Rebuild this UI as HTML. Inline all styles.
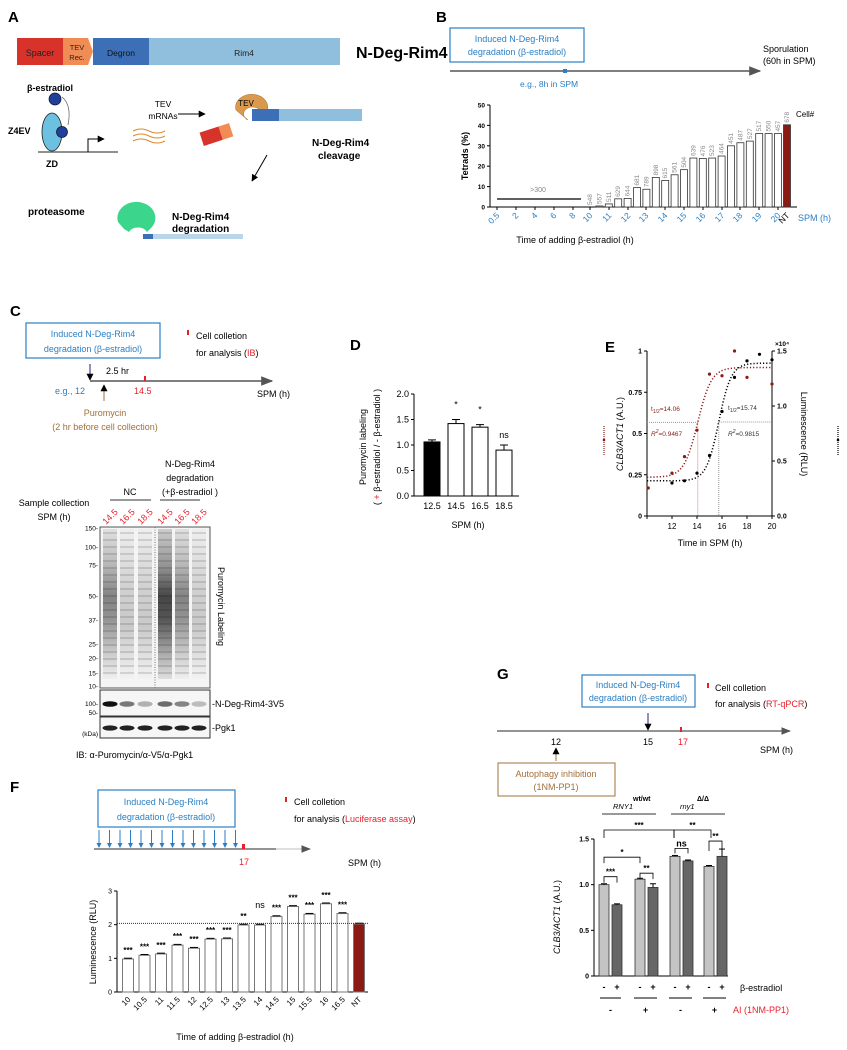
<!DOCTYPE html>
<html><head><meta charset="utf-8"><style>
html,body{margin:0;padding:0;background:#fff;}
svg{display:block;font-family:"Liberation Sans",Arial,sans-serif;}
</style></head><body>
<svg id="fig" width="847" height="1050" viewBox="0 0 847 1050" xmlns="http://www.w3.org/2000/svg">
<defs>
<marker id="ah" viewBox="0 0 10 10" refX="9" refY="5" markerWidth="7" markerHeight="7" orient="auto"><path d="M0,0L10,5L0,10z" fill="#000"/></marker>
<marker id="ahg" viewBox="0 0 10 10" refX="9" refY="5" markerWidth="8" markerHeight="8" orient="auto"><path d="M0,1L10,5L0,9z" fill="#555"/></marker>
<linearGradient id="laneA" x1="0" y1="0" x2="0" y2="1">
<stop offset="0" stop-color="#ddd"/><stop offset="0.2" stop-color="#bbb"/><stop offset="0.45" stop-color="#777"/><stop offset="0.6" stop-color="#888"/><stop offset="0.85" stop-color="#ccc"/><stop offset="1" stop-color="#eee"/></linearGradient>
<linearGradient id="laneB" x1="0" y1="0" x2="0" y2="1">
<stop offset="0" stop-color="#c8c8c8"/><stop offset="0.25" stop-color="#888"/><stop offset="0.45" stop-color="#333"/><stop offset="0.6" stop-color="#444"/><stop offset="0.85" stop-color="#aaa"/><stop offset="1" stop-color="#ddd"/></linearGradient>
<linearGradient id="laneC" x1="0" y1="0" x2="0" y2="1">
<stop offset="0" stop-color="#eee"/><stop offset="0.4" stop-color="#ccc"/><stop offset="0.65" stop-color="#c4c4c4"/><stop offset="1" stop-color="#f2f2f2"/></linearGradient>
<pattern id="bands" width="10" height="7" patternUnits="userSpaceOnUse"><rect width="10" height="2" fill="rgba(0,0,0,0.12)"/></pattern>
</defs>

<!-- Panel A -->
<g>
<text x="8" y="22" font-size="15" font-weight="bold">A</text>
<rect x="17" y="38" width="46" height="27" fill="#d8332b"/>
<text x="40" y="56" font-size="9" text-anchor="middle" fill="#222">Spacer</text>
<path d="M63,38H88L93,51.5L88,65H63z" fill="#f28c55"/>
<text x="77" y="50" font-size="7.5" text-anchor="middle" fill="#222">TEV</text><text x="77" y="60" font-size="7.5" text-anchor="middle" fill="#222">Rec.</text>
<rect x="93" y="38" width="56" height="27" fill="#3d6fb6"/>
<text x="121" y="56" font-size="8.5" text-anchor="middle" fill="#111">Degron</text>
<rect x="149" y="38" width="191" height="27" fill="#90bfdd"/>
<text x="244" y="56" font-size="8.5" text-anchor="middle" fill="#222">Rim4</text>
<text x="356" y="58" font-size="16" font-weight="bold">N-Deg-Rim4</text>
<text x="27" y="91" font-size="9" font-weight="bold">β-estradiol</text>
<circle cx="55" cy="99" r="6" fill="#1f3f9a" stroke="#112" stroke-width="0.7"/>
<path d="M62,97Q72,105 68,125" fill="none" stroke="#555" stroke-width="0.7"/>
<ellipse cx="52" cy="132" rx="10" ry="19" fill="#6cc1e1" stroke="#222" stroke-width="0.8"/>
<circle cx="62" cy="132" r="5.5" fill="#1f3f9a" stroke="#112" stroke-width="0.7"/>
<text x="8" y="134" font-size="9" font-weight="bold">Z4EV</text>
<line x1="38" y1="152" x2="118" y2="152" stroke="#222" stroke-width="1"/>
<text x="46" y="167" font-size="9" font-weight="bold">ZD</text>
<path d="M88,152V139H104" fill="none" stroke="#000" stroke-width="1" marker-end="url(#ah)"/>
<text x="163" y="107" font-size="8.5" text-anchor="middle">TEV</text><text x="163" y="119" font-size="8.5" text-anchor="middle">mRNAs</text>
<line x1="178" y1="114" x2="205" y2="114" stroke="#000" stroke-width="1" marker-end="url(#ah)"/>
<g fill="none" stroke="#d98b2e" stroke-width="1"><path d="M133,131q8,-4 16,0t16,0"/><path d="M133,136q8,-4 16,0t16,0"/><path d="M133,141q8,-4 16,0t16,0"/></g>
<path d="M236,110a16,13 0 1 1 30,3l-6,-3a9,7 0 1 0 -12,10z" fill="#d99a4f" stroke="#b87a30" stroke-width="0.6"/>
<text x="246" y="106" font-size="8" text-anchor="middle">TEV</text>
<rect x="252" y="109" width="27" height="12" fill="#3d6fb6"/><rect x="279" y="109" width="83" height="12" fill="#90bfdd"/>
<g transform="rotate(-18 215 135)"><rect x="201" y="128" width="20" height="14" fill="#d8332b"/><rect x="221" y="128" width="11" height="14" fill="#f28c55"/></g>
<text x="312" y="146" font-size="10" font-weight="bold">N-Deg-Rim4</text><text x="318" y="159" font-size="10" font-weight="bold">cleavage</text>
<line x1="267" y1="155" x2="252" y2="181" stroke="#000" stroke-width="1" marker-end="url(#ah)"/>
<text x="28" y="215" font-size="10" font-weight="bold">proteasome</text>
<path d="M118,222a19,16 0 1 1 34,5l-5,5a10,8 0 0 0 -18,0l-5,-3z" fill="#3bd68b"/>
<rect x="143" y="234" width="10" height="5" fill="#3d6fb6"/><rect x="153" y="234" width="90" height="5" fill="#b9d6ea"/>
<text x="172" y="220" font-size="10" font-weight="bold">N-Deg-Rim4</text><text x="172" y="232" font-size="10" font-weight="bold">degradation</text>
</g>

<!-- Panel B header -->
<g>
<text x="436" y="22" font-size="15" font-weight="bold">B</text>
<rect x="450" y="28" width="134" height="34" fill="#fff" stroke="#2a7fc4" stroke-width="1.2"/>
<text x="517" y="42" font-size="9" text-anchor="middle" fill="#2a7fc4">Induced N-Deg-Rim4</text>
<text x="517" y="55" font-size="9" text-anchor="middle" fill="#2a7fc4">degradation (β-estradiol)</text>
<line x1="450" y1="71" x2="760" y2="71" stroke="#555" stroke-width="1.5" marker-end="url(#ahg)"/>
<rect x="563" y="69" width="4" height="4" fill="#2a7fc4"/>
<text x="520" y="87" font-size="8.5" fill="#2a7fc4">e.g., 8h in SPM</text>
<text x="763" y="52" font-size="9">Sporulation</text><text x="763" y="64" font-size="9">(60h in SPM)</text>
<g id="chartB"></g>
</g>

<!-- Panel C -->
<g>
<text x="10" y="316" font-size="15" font-weight="bold">C</text>
<rect x="26" y="323" width="134" height="35" fill="#fff" stroke="#2a7fc4" stroke-width="1.2"/>
<text x="93" y="337" font-size="9" text-anchor="middle" fill="#2a7fc4">Induced N-Deg-Rim4</text>
<text x="93" y="352" font-size="9" text-anchor="middle" fill="#2a7fc4">degradation (β-estradiol)</text>
<rect x="187" y="330" width="2" height="5" fill="#e8202a"/>
<text x="196" y="339" font-size="9">Cell colletion</text>
<text x="196" y="356" font-size="9">for analysis (<tspan fill="#e8202a">IB</tspan>)</text>
<line x1="90" y1="381" x2="272" y2="381" stroke="#555" stroke-width="1.5" marker-end="url(#ahg)"/>
<line x1="90" y1="364" x2="90" y2="380" stroke="#1a237e" stroke-width="1" marker-end="url(#ah)"/>
<text x="106" y="374" font-size="9">2.5 hr</text>
<rect x="144" y="376" width="2" height="5" fill="#e8202a"/>
<text x="55" y="394" font-size="9" fill="#2a7fc4">e.g., 12</text>
<text x="134" y="394" font-size="9" fill="#e8202a">14.5</text>
<text x="257" y="397" font-size="9">SPM (h)</text>
<line x1="104" y1="401" x2="104" y2="385" stroke="#a0703a" stroke-width="1" marker-end="url(#ah)"/>
<text x="105" y="416" font-size="9" text-anchor="middle" fill="#a0703a">Puromycin</text>
<text x="105" y="430" font-size="9" text-anchor="middle" fill="#a0703a">(2 hr before cell collection)</text>
<text x="190" y="467" font-size="9" text-anchor="middle">N-Deg-Rim4</text>
<text x="190" y="481" font-size="9" text-anchor="middle">degradation</text>
<text x="190" y="495" font-size="9" text-anchor="middle">(+β-estradiol )</text>
<text x="130" y="495" font-size="9" text-anchor="middle">NC</text>
<line x1="110" y1="500" x2="151" y2="500" stroke="#333"/><line x1="160" y1="500" x2="200" y2="500" stroke="#333"/>
<text x="54" y="506" font-size="9" text-anchor="middle">Sample collection</text>
<text x="54" y="520" font-size="9" text-anchor="middle">SPM (h)</text>
</g>
<g id="gel"></g>

<!-- Panel D -->
<g>
<text x="350" y="350" font-size="15" font-weight="bold">D</text>
<g id="chartD"></g>
</g>

<!-- Panel E -->
<g>
<text x="605" y="352" font-size="15" font-weight="bold">E</text>
<g id="chartE"></g>
</g>

<!-- Panel F -->
<g>
<text x="10" y="792" font-size="15" font-weight="bold">F</text>
<rect x="98" y="790" width="137" height="37" fill="#fff" stroke="#2a7fc4" stroke-width="1.2"/>
<text x="166" y="805" font-size="9" text-anchor="middle" fill="#2a7fc4">Induced N-Deg-Rim4</text>
<text x="166" y="820" font-size="9" text-anchor="middle" fill="#2a7fc4">degradation (β-estradiol)</text>
<rect x="285" y="797" width="2" height="5" fill="#e8202a"/>
<text x="294" y="805" font-size="9">Cell colletion</text>
<text x="294" y="822" font-size="9">for analysis (<tspan fill="#e8202a">Luciferase assay</tspan>)</text>
<line x1="94" y1="849" x2="276" y2="849" stroke="#555" stroke-width="1.2"/>
<line x1="276" y1="849" x2="310" y2="849" stroke="#ccc" stroke-width="1.2" marker-end="url(#ahg)"/>
<g id="arrowsF"></g>
<rect x="242" y="844" width="3" height="5" fill="#e8202a"/>
<text x="244" y="865" font-size="9" text-anchor="middle" fill="#e8202a">17</text>
<text x="348" y="866" font-size="9">SPM (h)</text>
<g id="chartF"></g>
</g>

<!-- Panel G -->
<g>
<text x="497" y="679" font-size="15" font-weight="bold">G</text>
<rect x="582" y="675" width="113" height="32" fill="#fff" stroke="#2a7fc4" stroke-width="1.2"/>
<text x="638" y="688" font-size="9" text-anchor="middle" fill="#2a7fc4">Induced N-Deg-Rim4</text>
<text x="638" y="701" font-size="9" text-anchor="middle" fill="#2a7fc4">degradation (β-estradiol)</text>
<rect x="707" y="683" width="2" height="5" fill="#e8202a"/>
<text x="715" y="691" font-size="9">Cell colletion</text>
<text x="715" y="707" font-size="9">for analysis (<tspan fill="#e8202a">RT-qPCR</tspan>)</text>
<line x1="497" y1="731" x2="790" y2="731" stroke="#555" stroke-width="1.2" marker-end="url(#ahg)"/>
<line x1="648" y1="713" x2="648" y2="730" stroke="#1a237e" stroke-width="1" marker-end="url(#ah)"/>
<rect x="680" y="727" width="2" height="5" fill="#e8202a"/>
<text x="556" y="745" font-size="9" text-anchor="middle">12</text>
<text x="648" y="745" font-size="9" text-anchor="middle">15</text>
<text x="683" y="745" font-size="9" text-anchor="middle" fill="#e8202a">17</text>
<text x="760" y="753" font-size="9">SPM (h)</text>
<line x1="556" y1="761" x2="556" y2="748" stroke="#a0703a" stroke-width="1" marker-end="url(#ah)"/>
<rect x="498" y="763" width="117" height="33" fill="#fff" stroke="#a0703a" stroke-width="1"/>
<text x="556" y="777" font-size="9" text-anchor="middle" fill="#a0703a">Autophagy inhibition</text>
<text x="556" y="790" font-size="9" text-anchor="middle" fill="#a0703a">(1NM-PP1)</text>
<g id="chartG"></g>
</g>
</svg>
<script>
// ---------- Data ----------
const bCategories = ["10","10.5","11","11.5","12","12.5","13","13.5","14","14.5","15","15.5","16","16.5","17","17.5","18","18.5","19","19.5","20","NT"];
const bTetrads = [0,0.5,1.5,4,4.2,9.5,8.7,14.5,13,15.8,18.3,24,23.8,24,25,30,31.5,32.3,36,36,36,40.3];
const bCellCounts = ["548","557","511","629","644","681","789","898","615","561","504","639","476","523","464","451","487","527","517","550","457","678"];
const bTickLabels = ["0.5","2","4","6","8","10","11","12","13","14","15","16","17","18","19","20"];
const bYTicks = [0,10,20,30,40,50];

const dCategories = ["12.5","14.5","16.5","18.5"];
const dValues = [1.06,1.42,1.35,0.90];
const dErrors = [0.04,0.08,0.05,0.10];
const dSig = ["","*","*","ns"];
const dYTicks = [0,0.5,1.0,1.5,2.0];

const eRedX = [10.1,12,13,14,15,16,17,18,20];
const eRedY = [0.17,0.26,0.36,0.52,0.86,0.85,1.0,0.84,0.80];
const eBlackX = [12,13,14,15,16,17,18,19,20];
const eBlackY = [0.30,0.32,0.39,0.55,0.95,1.26,1.41,1.47,1.42];
const eRedFit = [0.235,0.90,14.06,0.55];
const eBlackFit = [0.32,1.39,15.74,0.5];
const eXTicks = [10,12,14,16,18,20];
const eXLabels = ["","12","14","16","18","20"];
const eLeftTicks = [0,0.25,0.5,0.75,1];
const eLeftLabels = ["0","0.25","0.5","0.75","1"];
const eRightTicks = [0,0.5,1.0,1.5];
const eRightLabels = ["0.0","0.5","1.0","1.5"];

const fCategories = ["10","10.5","11","11.5","12","12.5","13","13.5","14","14.5","15","15.5","16","16.5","NT"];
const fValues = [0.98,1.09,1.13,1.39,1.30,1.57,1.58,1.99,1.99,2.24,2.54,2.31,2.62,2.33,2.02];
const fSig = ["***","***","***","***","***","***","***","**","ns","***","***","***","***","***",""];
const fRef = 2.04;
const fYTicks = [0,1,2,3];

const gValues = [1.0,0.78,1.06,0.97,1.31,1.26,1.20,1.31];
const gErrors = [0.01,0.01,0.01,0.04,0.01,0.01,0.01,0.08];
const gYTicks = [0,0.5,1.0,1.5];
const gYLabels = ["0","0.5","1.0","1.5"];

const gelLanes = ["14.5","16.5","18.5","14.5","16.5","18.5"];
const gelMarkers = ["150","100","75","50","37","25","20","15","10"];

// ---------- helpers ----------
const NS="http://www.w3.org/2000/svg";
function mk(parent,tag,attrs,text){const e=document.createElementNS(NS,tag);for(const k in attrs)e.setAttribute(k,attrs[k]);if(text!==undefined)e.textContent=text;parent.appendChild(e);return e;}

// ---------- Chart B ----------
(function(){
 const g=document.getElementById('chartB');
 const x0=490,y0=207,yTop=105;
 const y=v=>y0-(v/50)*(y0-yTop);
 const xi=i=>i<21?590+i*9.4:787;
 mk(g,'line',{x1:x0,y1:yTop,x2:x0,y2:y0,stroke:'#000','stroke-width':1});
 mk(g,'line',{x1:x0,y1:y0,x2:797,y2:y0,stroke:'#000','stroke-width':1});
 bYTicks.forEach(t=>{mk(g,'line',{x1:x0-3,y1:y(t),x2:x0,y2:y(t),stroke:'#000'});
  const tx=mk(g,'text',{x:x0-5,y:y(t)+2.5,'font-size':6.5,'font-weight':'bold','text-anchor':'end'},String(t));
  });
 bTetrads.forEach((v,i)=>{const r=mk(g,'rect',{x:xi(i)-3.5,y:y(v),width:7,height:y0-y(v),fill:i===21?'#8b1a14':'#fff',stroke:'#333','stroke-width':0.8});
  
  const t=mk(g,'text',{x:0,y:0,'font-size':6.5,fill:'#888',transform:`translate(${xi(i)+2},${y(v)-2}) rotate(-90)`},bCellCounts[i]);
  });
 mk(g,'line',{x1:497,y1:199,x2:581,y2:199,stroke:'#000','stroke-width':1.2});
 mk(g,'text',{x:538,y:192,'font-size':7,fill:'#888','text-anchor':'middle'},'>300');
 const tickX=[497,516,535,554,573,590,609,628,646,665,684,703,722,740,759,778];
 bTickLabels.forEach((l,i)=>{mk(g,'line',{x1:tickX[i],y1:y0,x2:tickX[i],y2:y0+3,stroke:'#000'});
  const t=mk(g,'text',{x:0,y:0,'font-size':8.5,fill:'#2a7fc4','text-anchor':'end',transform:`translate(${tickX[i]+3},${y0+9}) rotate(-45)`},l);
  });
 mk(g,'text',{x:0,y:0,'font-size':8.5,'text-anchor':'end',transform:`translate(790,${y0+9}) rotate(-45)`},'NT');
 mk(g,'text',{x:798,y:221,'font-size':9,fill:'#2a7fc4'},'SPM (h)');
 mk(g,'text',{x:796,y:117,'font-size':8},'Cell#');
 mk(g,'text',{x:0,y:0,'font-size':9,'font-weight':'bold','text-anchor':'middle',transform:'translate(468,156) rotate(-90)'},'Tetrads (%)');
 mk(g,'text',{x:575,y:243,'font-size':9,'text-anchor':'middle'},'Time of adding β-estradiol (h)');
})();

// ---------- Gel ----------
(function(){
 const g=document.getElementById('gel');
 const lx=[110,127,145,165,182,199];
 gelLanes.forEach((l,i)=>{const t=mk(g,'text',{x:0,y:0,'font-size':9,fill:'#e8202a',transform:`translate(${lx[i]-4},${525}) rotate(-45)`},l);
  });
 mk(g,'rect',{x:100,y:527,width:110,height:161,fill:'#f4f4f4',stroke:'#555','stroke-width':1});
 const fills=['url(#laneA)','url(#laneC)','url(#laneC)','url(#laneB)','url(#laneA)','url(#laneC)'];
 lx.forEach((x,i)=>{mk(g,'rect',{x:x-7,y:529,width:14,height:150,fill:fills[i],opacity:0.9});
  mk(g,'rect',{x:x-7,y:529,width:14,height:150,fill:'url(#bands)'});});
 mk(g,'line',{x1:155,y1:527,x2:155,y2:738,stroke:'#777','stroke-dasharray':'1,1.5'});
 const my=[528,547,565,596,620,644,658,673,686];
 gelMarkers.forEach((m,i)=>mk(g,'text',{x:98,y:my[i]+2.5,'font-size':6.5,'text-anchor':'end'},m+'-'));
 mk(g,'text',{x:0,y:0,'font-size':9,transform:'translate(218,567) rotate(90)'},'Puromycin Labeling');
 mk(g,'rect',{x:100,y:690,width:110,height:26,fill:'#f6f6f6',stroke:'#333'});
 const rimInt=[1,0.55,0.3,0.6,0.5,0.25];
 lx.forEach((x,i)=>mk(g,'ellipse',{cx:x,cy:704,rx:7.5,ry:2.8,fill:'#111',opacity:rimInt[i]}));
 mk(g,'rect',{x:100,y:717,width:110,height:21,fill:'#f6f6f6',stroke:'#333'});
 lx.forEach(x=>mk(g,'ellipse',{cx:x,cy:728,rx:7.5,ry:2.6,fill:'#222'}));
 mk(g,'text',{x:98,y:706,'font-size':6.5,'text-anchor':'end'},'100-');
 mk(g,'text',{x:98,y:715,'font-size':6.5,'text-anchor':'end'},'50-');
 mk(g,'text',{x:98,y:736,'font-size':6.5,'text-anchor':'end'},'(kDa)');
 mk(g,'text',{x:212,y:707,'font-size':9},'-N-Deg-Rim4-3V5');
 mk(g,'text',{x:212,y:731,'font-size':9},'-Pgk1');
 mk(g,'text',{x:76,y:758,'font-size':9},'IB: α-Puromycin/α-V5/α-Pgk1');
})();

// ---------- Chart D ----------
(function(){
 const g=document.getElementById('chartD');
 const x0=414,y0=496,yTop=394;
 const y=v=>y0-(v/2)*(y0-yTop);
 const xc=i=>432+i*24;
 mk(g,'line',{x1:x0,y1:yTop,x2:x0,y2:y0,stroke:'#000'});
 mk(g,'line',{x1:x0,y1:y0,x2:519,y2:y0,stroke:'#000'});
 dYTicks.forEach(t=>{mk(g,'line',{x1:x0-3,y1:y(t),x2:x0,y2:y(t),stroke:'#000'});
  mk(g,'text',{x:x0-5,y:y(t)+3,'font-size':9,'text-anchor':'end'},t.toFixed(1));});
 dValues.forEach((v,i)=>{const r=mk(g,'rect',{x:xc(i)-8,y:y(v),width:16,height:y0-y(v),fill:i===0?'#000':'#fff',stroke:'#000','stroke-width':1});
  
  const ye=y(v+dErrors[i]);mk(g,'line',{x1:xc(i),y1:y(v),x2:xc(i),y2:ye,stroke:'#000'});mk(g,'line',{x1:xc(i)-4,y1:ye,x2:xc(i)+4,y2:ye,stroke:'#000'});
  if(dSig[i])mk(g,'text',{x:xc(i),y:dSig[i]==='ns'?y(v+dErrors[i])-7:y(v+dErrors[i])-12,'font-size':9,'text-anchor':'middle'},dSig[i]);
  mk(g,'text',{x:xc(i),y:509,'font-size':9,'text-anchor':'middle'},dCategories[i]);});
 mk(g,'text',{x:468,y:528,'font-size':9,'text-anchor':'middle'},'SPM (h)');
 mk(g,'text',{x:0,y:0,'font-size':9,'text-anchor':'middle',transform:'translate(366,447) rotate(-90)'},'Puromycin labeling');
 const t2=mk(g,'text',{x:0,y:0,'font-size':9,'text-anchor':'middle',transform:'translate(380,447) rotate(-90)'});
 mk(t2,'tspan',{},'( ');mk(t2,'tspan',{fill:'#e8202a'},'+');mk(t2,'tspan',{},' β-estradiol / - β-estradiol )');
})();

// ---------- Chart E ----------
(function(){
 const g=document.getElementById('chartE');
 const xL=647,xR=772,y0=516,yTop=351;
 const x=v=>xL+(v-10)*12.5;
 const yl=v=>y0-v*(y0-yTop);
 const yr=v=>y0-(v/1.5)*(y0-yTop);
 mk(g,'line',{x1:xL,y1:yTop,x2:xL,y2:y0,stroke:'#000'});
 mk(g,'line',{x1:xR,y1:yTop,x2:xR,y2:y0,stroke:'#000'});
 mk(g,'line',{x1:xL,y1:y0,x2:xR,y2:y0,stroke:'#000'});
 eXTicks.forEach((t,i)=>{mk(g,'line',{x1:x(t),y1:y0,x2:x(t),y2:y0+3,stroke:'#000'});
  mk(g,'text',{x:x(t),y:y0+13,'font-size':8,'text-anchor':'middle'},eXLabels[i]);});
 eLeftTicks.forEach((t,i)=>{mk(g,'line',{x1:xL-3,y1:yl(t),x2:xL,y2:yl(t),stroke:'#000'});
  mk(g,'text',{x:xL-5,y:yl(t)+2.5,'font-size':7,'font-weight':'bold','text-anchor':'end'},eLeftLabels[i]);});
 eRightTicks.forEach((t,i)=>{mk(g,'line',{x1:xR,y1:yr(t),x2:xR+3,y2:yr(t),stroke:'#000'});
  mk(g,'text',{x:xR+5,y:yr(t)+2.5,'font-size':7,'font-weight':'bold'},eRightLabels[i]);});
 mk(g,'text',{x:775,y:346,'font-size':6.5,'font-weight':'bold'},'×10⁴');
 function curve(f,yf,col,name){let d='';for(let t=10;t<=20.01;t+=0.1){const v=f[0]+(f[1]-f[0])/(1+Math.exp(-(t-f[2])/f[3]));d+=(d?'L':'M')+x(t).toFixed(1)+','+yf(v).toFixed(1);}
  const p=mk(g,'path',{d:d,fill:'none',stroke:col,'stroke-width':1.5,'stroke-dasharray':'1.2,2'});}
 curve(eRedFit,yl,'#8b1a14','fit-curve-clb3');
 curve(eBlackFit,yr,'#000','fit-curve-luminescence');
 const rMid=(eRedFit[0]+eRedFit[1])/2, bMid=(eBlackFit[0]+eBlackFit[1])/2;
 mk(g,'line',{x1:xL,y1:yl(rMid),x2:x(eRedFit[2]),y2:yl(rMid),stroke:'#c88','stroke-dasharray':'1,1'});
 mk(g,'line',{x1:x(eRedFit[2]),y1:yl(rMid),x2:x(eRedFit[2]),y2:y0,stroke:'#c88','stroke-dasharray':'1,1'});
 mk(g,'line',{x1:x(eBlackFit[2]),y1:yr(bMid),x2:xR,y2:yr(bMid),stroke:'#999','stroke-dasharray':'1,1'});
 mk(g,'line',{x1:x(eBlackFit[2]),y1:yr(bMid),x2:x(eBlackFit[2]),y2:y0,stroke:'#999','stroke-dasharray':'1,1'});
 eRedX.forEach((v,i)=>{const c=mk(g,'circle',{cx:x(v),cy:yl(eRedY[i]),r:1.6,fill:'#8b1a14'});});
 eBlackX.forEach((v,i)=>{const c=mk(g,'circle',{cx:x(v),cy:yr(eBlackY[i]),r:1.6,fill:'#000'});});
 const t1=mk(g,'text',{x:651,y:411,'font-size':6.5,fill:'#8b1a14'});mk(t1,'tspan',{},'t');mk(t1,'tspan',{'font-size':5,dy:2},'1/2');mk(t1,'tspan',{dy:-2},'=14.06');
 const t2=mk(g,'text',{x:651,y:436,'font-size':6.5,fill:'#8b1a14','font-style':'italic'});mk(t2,'tspan',{},'R');mk(t2,'tspan',{'font-size':5,dy:-3},'2');mk(t2,'tspan',{dy:3,'font-style':'normal'},'=0.9467');
 const t3=mk(g,'text',{x:728,y:410,'font-size':6.5,fill:'#333'});mk(t3,'tspan',{},'t');mk(t3,'tspan',{'font-size':5,dy:2},'1/2');mk(t3,'tspan',{dy:-2},'=15.74');
 const t4=mk(g,'text',{x:728,y:436,'font-size':6.5,fill:'#333','font-style':'italic'});mk(t4,'tspan',{},'R');mk(t4,'tspan',{'font-size':5,dy:-3},'2');mk(t4,'tspan',{dy:3,'font-style':'normal'},'=0.9815');
 const yt=mk(g,'text',{x:0,y:0,'font-size':9,'text-anchor':'middle',transform:'translate(623,434) rotate(-90)'});
 mk(yt,'tspan',{'font-style':'italic'},'CLB3/ACT1');mk(yt,'tspan',{},' (A.U.)');
 mk(g,'text',{x:0,y:0,'font-size':9,'text-anchor':'middle',transform:'translate(801,434) rotate(90)'},'Luminescence (RLU)');
 mk(g,'line',{x1:604,y1:426,x2:604,y2:455,stroke:'#8b1a14','stroke-dasharray':'1,1','stroke-width':1.2});
 mk(g,'circle',{cx:604,cy:440,r:1.3,fill:'#8b1a14'});
 mk(g,'line',{x1:838,y1:426,x2:838,y2:455,stroke:'#000','stroke-dasharray':'1,1','stroke-width':1.2});
 mk(g,'circle',{cx:838,cy:440,r:1.3,fill:'#000'});
 mk(g,'text',{x:710,y:546,'font-size':9,'text-anchor':'middle'},'Time in SPM (h)');
})();

// ---------- Chart F ----------
(function(){
 const a=document.getElementById('arrowsF');
 for(let i=0;i<14;i++){const xx=99+i*10.5;mk(a,'line',{x1:xx,y1:830,x2:xx,y2:847,stroke:'#2a7fc4','stroke-width':1});
  mk(a,'path',{d:`M${xx-2.5},843L${xx},848L${xx+2.5},843z`,fill:'#2a7fc4'});}
 const g=document.getElementById('chartF');
 const x0=117,y0=992,yTop=891;
 const y=v=>y0-(v/3)*(y0-yTop);
 const xc=i=>128+i*16.5;
 mk(g,'line',{x1:x0,y1:yTop,x2:x0,y2:y0,stroke:'#000'});
 mk(g,'line',{x1:x0,y1:y0,x2:368,y2:y0,stroke:'#000'});
 fYTicks.forEach(t=>{mk(g,'line',{x1:x0-3,y1:y(t),x2:x0,y2:y(t),stroke:'#000'});mk(g,'text',{x:x0-5,y:y(t)+2.5,'font-size':7,'text-anchor':'end'},String(t));});
 fValues.forEach((v,i)=>{const r=mk(g,'rect',{x:xc(i)-5.5,y:y(v),width:11,height:y0-y(v),fill:i===14?'#8b1a14':'#fff',stroke:'#777','stroke-width':1});
  
  mk(g,'line',{x1:xc(i)-4,y1:y(v)-0.8,x2:xc(i)+4,y2:y(v)-0.8,stroke:'#000','stroke-width':1});
  if(fSig[i])mk(g,'text',{x:xc(i),y:fSig[i]==='ns'?y(v)-17:y(v)-6,'font-size':fSig[i]==='ns'?9:8,'font-weight':fSig[i]==='ns'?'normal':'bold','text-anchor':'middle'},fSig[i]);
  mk(g,'text',{x:0,y:0,'font-size':8,'text-anchor':'end',transform:`translate(${xc(i)+3},${y0+8}) rotate(-45)`},fCategories[i]);});
 mk(g,'line',{x1:x0,y1:y(fRef),x2:368,y2:y(fRef),stroke:'#333','stroke-dasharray':'1,1'});
 mk(g,'text',{x:0,y:0,'font-size':9,'text-anchor':'middle',transform:'translate(96,942) rotate(-90)'},'Luminescence (RLU)');
 mk(g,'text',{x:235,y:1040,'font-size':9,'text-anchor':'middle'},'Time of adding   β-estradiol (h)');
})();

// ---------- Chart G ----------
(function(){
 const g=document.getElementById('chartG');
 const x0=594,y0=976,yTop=839;
 const y=v=>y0-(v/1.5)*(y0-yTop);
 const xs=[604,617,640,653,675,688,709,722];
 mk(g,'line',{x1:x0,y1:yTop,x2:x0,y2:y0,stroke:'#000'});
 mk(g,'line',{x1:x0,y1:y0,x2:728,y2:y0,stroke:'#000'});
 gYTicks.forEach((t,i)=>{mk(g,'line',{x1:x0-3,y1:y(t),x2:x0,y2:y(t),stroke:'#000'});mk(g,'text',{x:x0-5,y:y(t)+2.5,'font-size':7,'font-weight':'bold','text-anchor':'end'},gYLabels[i]);});
 gValues.forEach((v,i)=>{const r=mk(g,'rect',{x:xs[i]-5,y:y(v),width:10,height:y0-y(v),fill:i%2?'#666':'#c4c4c4',stroke:'#333','stroke-width':0.8});
  
  const ye=y(v+gErrors[i]);mk(g,'line',{x1:xs[i],y1:y(v),x2:xs[i],y2:ye,stroke:'#000'});mk(g,'line',{x1:xs[i]-3,y1:ye,x2:xs[i]+3,y2:ye,stroke:'#000'});
  mk(g,'text',{x:xs[i],y:y0+14,'font-size':9,'font-weight':'bold','text-anchor':'middle'},i%2?'+':'-');});
 [[600,621],[634,657],[669,692],[703,726]].forEach((p,i)=>{mk(g,'line',{x1:p[0],y1:y0+22,x2:p[1],y2:y0+22,stroke:'#000'});
  mk(g,'text',{x:(p[0]+p[1])/2,y:y0+37,'font-size':9,'font-weight':'bold','text-anchor':'middle'},i%2?'+':'-');});
 mk(g,'text',{x:740,y:y0+15,'font-size':9},'β-estradiol');
 mk(g,'text',{x:733,y:y0+37,'font-size':9,fill:'#e8202a'},'AI (1NM-PP1)');
 const yt=mk(g,'text',{x:0,y:0,'font-size':9,'text-anchor':'middle',transform:'translate(560,917) rotate(-90)'});
 mk(yt,'tspan',{'font-style':'italic'},'CLB3/ACT1');mk(yt,'tspan',{},' (A.U.)');
 function br(x1,x2,yb,h,label,fs){mk(g,'path',{d:`M${x1},${yb+h}V${yb}H${x2}V${yb+h}`,fill:'none',stroke:'#000','stroke-width':0.8});
  mk(g,'text',{x:(x1+x2)/2,y:yb-2,'font-size':fs||8,'font-weight':'bold','text-anchor':'middle'},label);}
 br(xs[0],xs[1],y(gValues[0])-8,6,'***');
 br(xs[2],xs[3],y(gValues[2])-6,6,'**');
 br(xs[0],xs[2],y(gValues[2])-22,6,'*');
 br(xs[4],xs[5],y(gValues[4])-8,5,'ns',9);
 br(xs[6],xs[7],y(gValues[7]+gErrors[7])-8,10,'**');
 br(604,674,830,8,'***');
 br(674,711,830,8,'**');
 mk(g,'line',{x1:602,y1:814,x2:656,y2:814,stroke:'#333'});
 mk(g,'line',{x1:671,y1:814,x2:725,y2:814,stroke:'#333'});
 mk(g,'text',{x:613,y:809,'font-size':7.5,'font-style':'italic'},'RNY1');
 mk(g,'text',{x:633,y:801,'font-size':7,'font-weight':'bold'},'wt/wt');
 mk(g,'text',{x:680,y:809,'font-size':7.5,'font-style':'italic'},'rny1');
 mk(g,'text',{x:697,y:801,'font-size':7,'font-weight':'bold'},'Δ/Δ');
})();
</script>
</body></html>
